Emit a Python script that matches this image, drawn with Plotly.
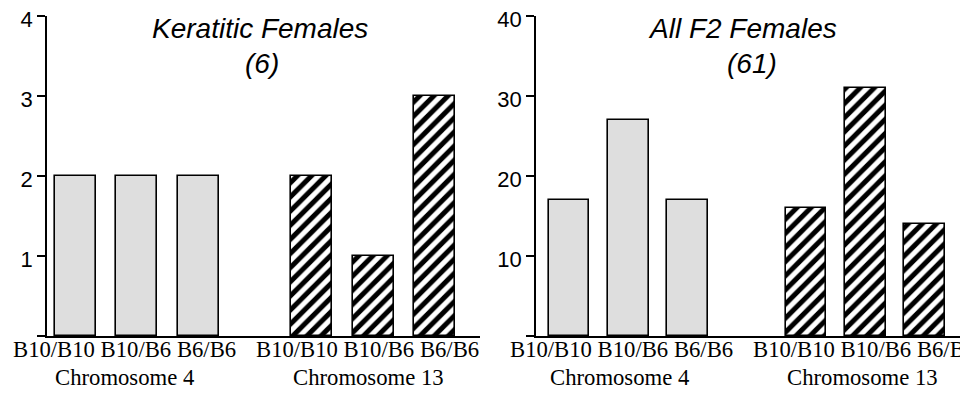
import plotly.graph_objects as go

# ---- data ----
genotypes = ["B10/B10", "B10/B6", "B6/B6"]
chromosomes = ["Chromosome 4", "Chromosome 13"]
keratitic_chr4 = [2, 2, 2]
keratitic_chr13 = [2, 1, 3]
all_f2_chr4 = [17, 27, 17]
all_f2_chr13 = [16, 31, 14]
panel_titles = ["Keratitic Females", "All F2 Females"]
panel_counts = ["(6)", "(61)"]
left_ticks = [0, 1, 2, 3, 4]
right_ticks = [0, 10, 20, 30, 40]

# page has an 8px body margin: lay out in screen pixels, convert to figure pixels
OFF = 8
W, H = 968 - OFF, 401 - OFF
def px(x):
    return (x - OFF) / W
def py(y):
    return 1 - (y - OFF) / H

GRAY = "#dedede"

fig = go.Figure()

def add_panel(xa, ya, v4, v13, gap, width):
    pos4 = [0, 1, 2]
    pos13 = [gap + p for p in pos4]
    fig.add_trace(go.Bar(x=pos4, y=v4, width=width, xaxis=xa, yaxis=ya,
                         marker=dict(color=GRAY, line=dict(color="black", width=1.6)),
                         showlegend=False, hoverinfo="skip"))
    fig.add_trace(go.Bar(x=pos13, y=v13, width=width, xaxis=xa, yaxis=ya,
                         marker=dict(color="white", line=dict(color="black", width=1.6),
                                     pattern=dict(shape="/", fgcolor="black", bgcolor="white",
                                                  fgopacity=1, size=10, solidity=0.5)),
                         showlegend=False, hoverinfo="skip"))

add_panel("x", "y", keratitic_chr4, keratitic_chr13, 3.86, 0.67)
add_panel("x2", "y2", all_f2_chr4, all_f2_chr13, 4.0, 0.69)

ydom = [py(336), py(16)]
tickfont = dict(family="Arial, Liberation Sans, sans-serif", size=22, color="black")
axis_common = dict(showgrid=False, zeroline=False, showline=True, linecolor="black",
                   linewidth=1.5, automargin=False)
ytick_common = dict(ticks="outside", ticklen=8, tickwidth=1.5, tickcolor="black",
                    tickfont=tickfont, ticklabeloverflow="allow", ticklabelshift=3)

fig.update_layout(
    width=W, height=H, margin=dict(l=0, r=0, t=0, b=0, pad=0),
    paper_bgcolor="white", plot_bgcolor="white", bargap=0,
    xaxis=dict(domain=[px(47), px(480)], range=[-0.469, 6.606], showticklabels=False,
               ticks="", anchor="y", **axis_common),
    yaxis=dict(domain=ydom, range=[0, 4], tickvals=left_ticks,
               ticktext=[""] + [str(t) for t in left_ticks[1:]],
               anchor="x", **ytick_common, **axis_common),
    xaxis2=dict(domain=[px(536), 1.0], range=[-0.557, 6.734], showticklabels=False,
                ticks="", anchor="y2", **axis_common),
    yaxis2=dict(domain=ydom, range=[0, 40], tickvals=right_ticks,
                ticktext=[""] + [str(t) for t in right_ticks[1:]],
                anchor="x2", **ytick_common, **axis_common),
)

title_font = dict(family="Arial, Liberation Sans, sans-serif", size=28, color="black")
serif = dict(family="Liberation Serif, Times New Roman, serif", size=22.7, color="black")

# titles
for tx, cx, t in [(260, 262, 0), (742, 752, 1)]:
    fig.add_annotation(text="<i>%s</i>" % panel_titles[t], x=px(tx), y=py(28),
                       xref="paper", yref="paper", showarrow=False, font=title_font,
                       xanchor="center", yanchor="middle")
    fig.add_annotation(text="<i>%s</i>" % panel_counts[t], x=px(cx), y=py(64),
                       xref="paper", yref="paper", showarrow=False, font=title_font,
                       xanchor="center", yanchor="middle")

row1 = " ".join(genotypes)
# category labels, in each panel's data coordinates
for xref, centers in [("x", [(0.80, 0.79), (4.76, 4.78)]), ("x2", [(0.88, 0.86), (4.99, 4.96)])]:
    for (c1, c2), chrom in zip(centers, chromosomes):
        fig.add_annotation(text=row1, x=c1, y=py(349), xref=xref, yref="paper",
                           showarrow=False, font=serif, xanchor="center", yanchor="middle")
        fig.add_annotation(text=chrom, x=c2, y=py(377), xref=xref, yref="paper",
                           showarrow=False, font=serif, xanchor="center", yanchor="middle")

fig.write_html("out.html")
